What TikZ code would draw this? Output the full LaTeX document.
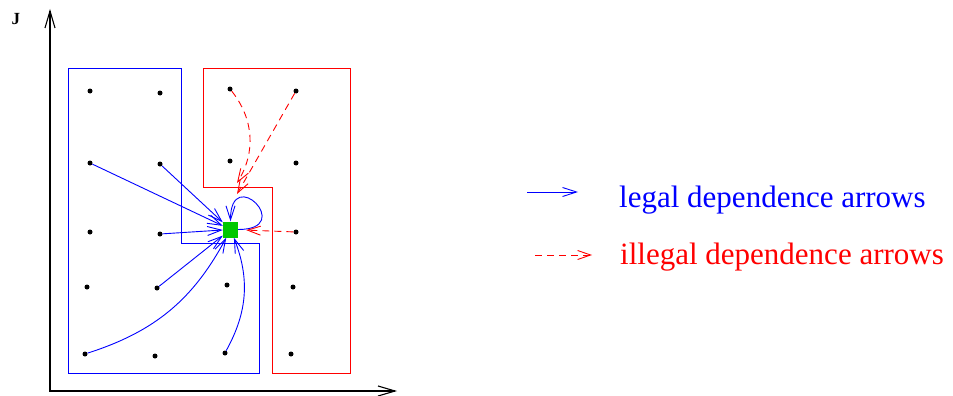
\documentclass[tikz,border=0pt]{standalone}
\usepackage{fontspec}
\setmainfont{Liberation Serif}
\usetikzlibrary{arrows.meta}
\definecolor{sqgreen}{RGB}{0,200,0}
\tikzset{
  gridpt/.style={circle, fill=black, inner sep=0pt, minimum size=5pt},
  zone/.style={line width=1pt},
  legal/.style={blue, line width=0.9pt,
    -{Straight Barb[length=14pt, width=9pt]}},
  illegal/.style={red, line width=0.9pt, dash pattern=on 7pt off 5pt,
    -{Straight Barb[length=13pt, width=9pt]}},
  legtext/.style={font=\fontsize{31}{37}\selectfont, anchor=base west,
    inner sep=0pt}
}

\begin{document}
\begin{tikzpicture}[x=1pt, y=-1pt,
    >={Straight Barb[length=17pt, width=10pt]}]
  \useasboundingbox (0,0) rectangle (953,396);

  % Axes
  \coordinate (ytop) at (50,9);
  \coordinate (xend) at (397,391);
  \draw[<->, line width=1.1pt] (ytop) |- (xend);
  \node[font=\fontsize{17}{20}\selectfont\bfseries] (jlab) at (16,19) {J};

  % Region of legal sources
  \draw[blue, zone] (68,69) -- (181,69) -- (181,243) -- (259,243)
    -- (259,373) -- (68,373) -- cycle;

  % Region of illegal sources
  \draw[red, zone] (203,69) -- (350,69) -- (350,373) -- (272,373)
    -- (272,187) -- (203,187) -- cycle;

  % Iteration points
  \node[gridpt] (d11) at (90,91) {};   \node[gridpt] (d12) at (160,93) {};
  \node[gridpt] (d13) at (230,89) {};  \node[gridpt] (d14) at (296,91) {};
  \node[gridpt] (d21) at (90,163) {};  \node[gridpt] (d22) at (160,164) {};
  \node[gridpt] (d23) at (230,161) {}; \node[gridpt] (d24) at (296,163) {};
  \node[gridpt] (d31) at (90,232) {};  \node[gridpt] (d32) at (160,234) {};
  \node[gridpt] (d34) at (296,232) {};
  \node[gridpt] (d41) at (87,287) {};  \node[gridpt] (d42) at (157,288) {};
  \node[gridpt] (d43) at (227,285) {}; \node[gridpt] (d44) at (293,287) {};
  \node[gridpt] (d51) at (85,354) {};  \node[gridpt] (d52) at (155,356) {};
  \node[gridpt] (d53) at (225,353) {}; \node[gridpt] (d54) at (291,354) {};

  % Current point
  \node[fill=sqgreen, inner sep=0pt, minimum width=15pt,
    minimum height=16pt] (cur) at (230.5,229.5) {};

  % Legal dependences
  \draw[legal] (d21) -- (cur);
  \draw[legal] (d22) -- (cur);
  \draw[legal] (d32) -- (cur);
  \draw[legal] (d42) -- (cur);
  \draw[legal] (d51) to[bend right=22] (cur);
  \draw[legal] (d53) to[bend right=25] (cur);
  \draw[legal] (cur.east) .. controls +(58,0) and +(0,-58) .. (cur.north);

  % Illegal dependences
  \coordinate (r1) at (237,183);
  \coordinate (r2) at (237,194);
  \draw[illegal] (d13) to[bend left=35] (r1);
  \draw[illegal] (d14) -- (r2);
  \draw[illegal, shorten >=8pt] (d34) -- (cur);

  % Legend
  \coordinate (lga) at (527,192);
  \coordinate (lgb) at (578,192);
  \draw[legal] (lga) -- (lgb);
  \node[legtext, blue] (txtlegal) at (619,207) {legal dependence arrows};
  \coordinate (lgc) at (535,255);
  \coordinate (lgd) at (592,255);
  \draw[illegal] (lgc) -- (lgd);
  \node[legtext, red] (txtillegal) at (620,264)
    {illegal dependence arrows};
\end{tikzpicture}
\end{document}
